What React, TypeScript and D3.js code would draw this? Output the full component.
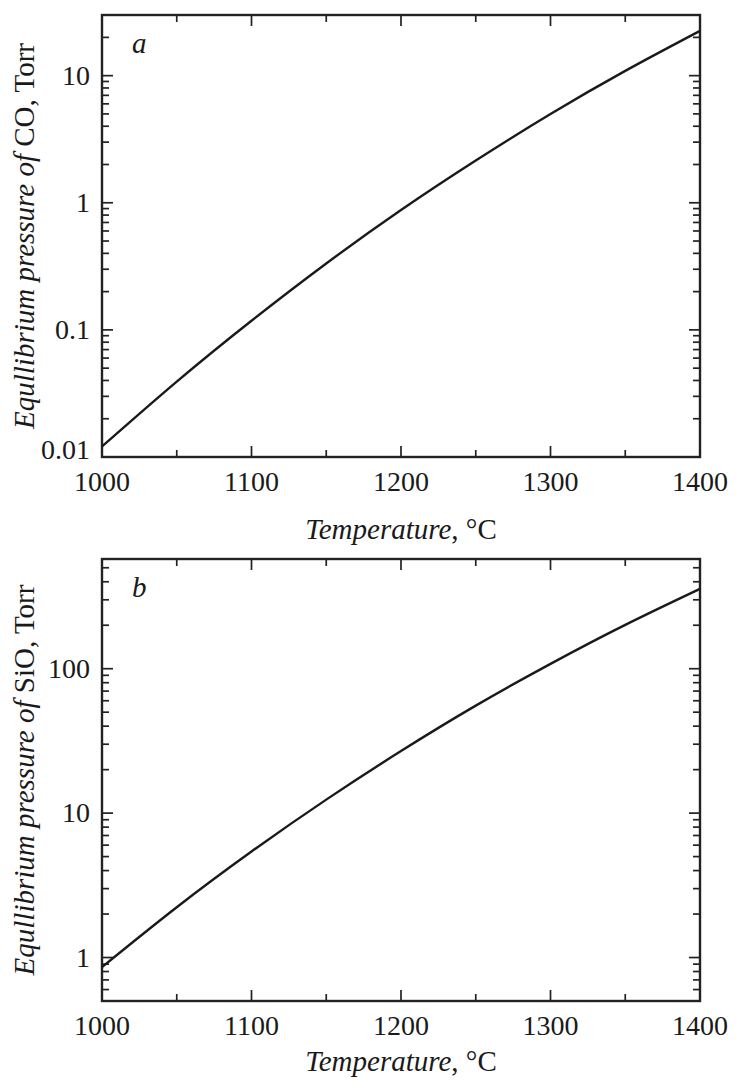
import React from 'react';
import * as d3 from 'd3';

// temperature grid, °C
const temps = [1000, 1050, 1100, 1150, 1200, 1250, 1300, 1350, 1400];
// equilibrium pressure of CO, Torr (panel a)
const coPressure = [0.0121, 0.0392, 0.118, 0.333, 0.877, 2.15, 4.99, 10.9, 22.5];
// equilibrium pressure of SiO, Torr (panel b)
const sioPressure = [0.859, 2.23, 5.42, 12.4, 26.9, 55.5, 108, 201, 357];

const xMajor = [1000, 1100, 1200, 1300, 1400];
const xMinor = [1050, 1150, 1250, 1350];
const coLabels = [0.01, 0.1, 1, 10];
const sioLabels = [1, 10, 100];

const W = 736, H = 1082;
const left = 102, right = 700;
const FONT = '"Liberation Serif", "Times New Roman", serif';

const Panel = ({top, bottom, domain, values, labels, letter, species, titleOffset}) => {
  const x = d3.scaleLinear().domain([1000, 1400]).range([left, right]);
  const y = d3.scaleLog().domain(domain).range([bottom, top]);

  const line = d3.line()
    .x((d, i) => x(temps[i]))
    .y(d => y(d))
    .curve(d3.curveNatural);

  const yTicks = y.ticks().filter(t => t >= domain[0] && t <= domain[1]);
  const isMajor = t => Math.abs(Math.log10(t) - Math.round(Math.log10(t))) < 1e-6;
  const fmt = t => (t < 1 ? String(+t.toFixed(3)) : String(t));
  const cy = (top + bottom) / 2;

  return (
    <g>
      {/* x ticks bottom + top */}
      {xMajor.concat(xMinor).map(t => {
        const len = xMajor.includes(t) ? 11 : 7;
        return (
          <g key={'x' + t} stroke="#222" strokeWidth={1.7}>
            <line x1={x(t)} x2={x(t)} y1={bottom} y2={bottom - len} />
            <line x1={x(t)} x2={x(t)} y1={top} y2={top + len} />
          </g>
        );
      })}
      {/* y ticks left + right */}
      {yTicks.map(t => {
        const len = isMajor(t) ? 11 : 7;
        return (
          <g key={'y' + t} stroke="#222" strokeWidth={1.7}>
            <line x1={left} x2={left + len} y1={y(t)} y2={y(t)} />
            <line x1={right} x2={right - len} y1={y(t)} y2={y(t)} />
          </g>
        );
      })}
      <rect x={left} y={top} width={right - left} height={bottom - top}
        fill="none" stroke="#222" strokeWidth={2.4} />
      <path d={line(values)} fill="none" stroke="#1a1a1a" strokeWidth={2.4} />

      <g fontFamily={FONT} fontSize={29} fill="#1a1a1a">
        {xMajor.map(t => (
          <text key={'xl' + t} x={x(t)} y={bottom + 34} fontSize={28} textAnchor="middle">{t}</text>
        ))}
        {labels.map(t => (
          <text key={'yl' + t} x={90} y={y(t) - (t === domain[0] ? 7 : 0)} dy="0.33em" fontSize={28} textAnchor="end">{fmt(t)}</text>
        ))}
        <text x={(left + right) / 2} y={bottom + titleOffset} textAnchor="middle">
          <tspan fontStyle="italic">Temperature</tspan>, °C
        </text>
        <text transform={`translate(34,${cy}) rotate(-90)`} textAnchor="middle">
          <tspan fontStyle="italic">Equllibrium pressure of </tspan>{species}, Torr
        </text>
        <text x={132} y={top + 38} fontStyle="italic">{letter}</text>
      </g>
    </g>
  );
};

export default function App() {
  return (
    <svg width={W} height={H} style={{position: 'absolute', left: 0, top: 0, background: '#fff'}}>
      <rect width={W} height={H} fill="#fff" />
      <Panel top={15} bottom={457} domain={[0.01, 30]} values={coPressure}
        labels={coLabels} letter="a" species="CO" titleOffset={82} />
      <Panel top={559} bottom={1001} domain={[0.5, 575]} values={sioPressure}
        labels={sioLabels} letter="b" species="SiO" titleOffset={70} />
    </svg>
  );
}
